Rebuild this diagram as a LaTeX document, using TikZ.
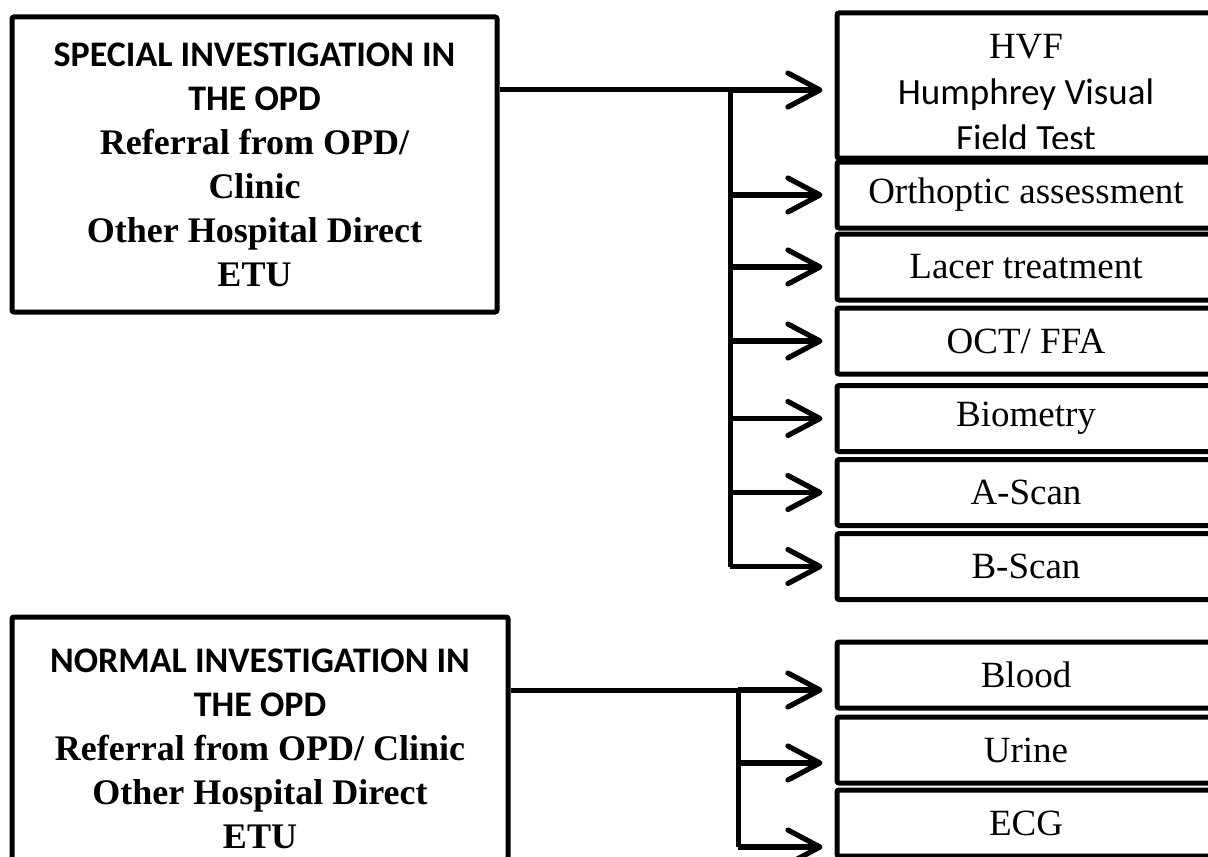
\documentclass[tikz,border=0pt]{standalone}
\usepackage{fontspec}
\setmainfont{Liberation Serif}
\newfontfamily\calibri{Carlito}
\usetikzlibrary{arrows.meta}

\begin{document}
\begin{tikzpicture}[x=0.5pt,y=-0.5pt,
        box/.style={draw,line width=2.5pt,rounded corners=1pt,align=center,inner sep=0pt},
        src/.style={box,font=\fontsize{18}{22}\selectfont\bfseries},
        item/.style={box,minimum width=189pt,minimum height=33pt,font=\fontsize{18.5}{22}\selectfont},
        line/.style={line width=2.5pt},
        arr/.style={line width=2.6pt,-{Straight Barb[length=16pt,width=17pt,round]},shorten >=6pt}]
        \useasboundingbox (0,0) rectangle (1208,856);
        \clip (0,0) rectangle (1208,856);
        % sources
        \node[src,minimum width=242.5pt,minimum height=147.5pt] (special) at (254.5,164.5)
            {{\calibri SPECIAL INVESTIGATION IN}\\{\calibri THE OPD}\\Referral from OPD/\\Clinic\\Other Hospital Direct\\ETU};
        \node[src,minimum width=248pt,minimum height=131.5pt] (normal) at (260,748.5)
            {{\calibri NORMAL INVESTIGATION IN}\\{\calibri THE OPD}\\Referral from OPD/ Clinic\\Other Hospital Direct\\ETU};
        % special investigations
        \node[item,minimum height=72.5pt] (hvf) at (1026,85.5) {};
        \begin{scope}
            \clip (837,13) rectangle (1215,148.5);
            \node[align=center,font=\fontsize{18.5}{23}\selectfont] (hvftext) at (1026,93)
                {HVF\\{\calibri Humphrey Visual}\\{\calibri Field Test}};
        \end{scope}
        \node[item] (ortho) at (1026,195) {Orthoptic assessment};
        \node[item] (lacer) at (1026,267) {Lacer treatment};
        \node[item] (oct) at (1026,341) {OCT/ FFA};
        \node[item] (bio) at (1026,418.5) {Biometry};
        \node[item] (ascan) at (1026,492.5) {A-Scan};
        \node[item] (bscan) at (1026,566.5) {B-Scan};
        % normal investigations
        \node[item] (blood) at (1026,675) {Blood};
        \node[item] (urine) at (1026,750) {Urine};
        \node[item] (ecg) at (1026,823) {ECG};
        % connectors
        \coordinate (sp) at (730,90);
        \draw[line] (sp -| special.east) -- (sp) -- (sp |- bscan.west);
        \draw[arr] (sp) -- (sp -| hvf.west);
        \draw[arr] (sp |- ortho.west) -- (ortho.west);
        \draw[arr] (sp |- lacer.west) -- (lacer.west);
        \draw[arr] (sp |- oct.west) -- (oct.west);
        \draw[arr] (sp |- bio.west) -- (bio.west);
        \draw[arr] (sp |- ascan.west) -- (ascan.west);
        \draw[arr] (sp |- bscan.west) -- (bscan.west);
        \coordinate (np) at (738,690);
        \coordinate (uin) at ([yshift=-6.5pt]urine.west);
        \coordinate (ein) at ([yshift=-12pt]ecg.west);
        \draw[line] (np -| normal.east) -- (np) -- (np |- ein);
        \draw[arr] (np) -- (np -| blood.west);
        \draw[arr] (np |- uin) -- (uin);
        \draw[arr] (np |- ein) -- (ein);
\end{tikzpicture}
\end{document}
